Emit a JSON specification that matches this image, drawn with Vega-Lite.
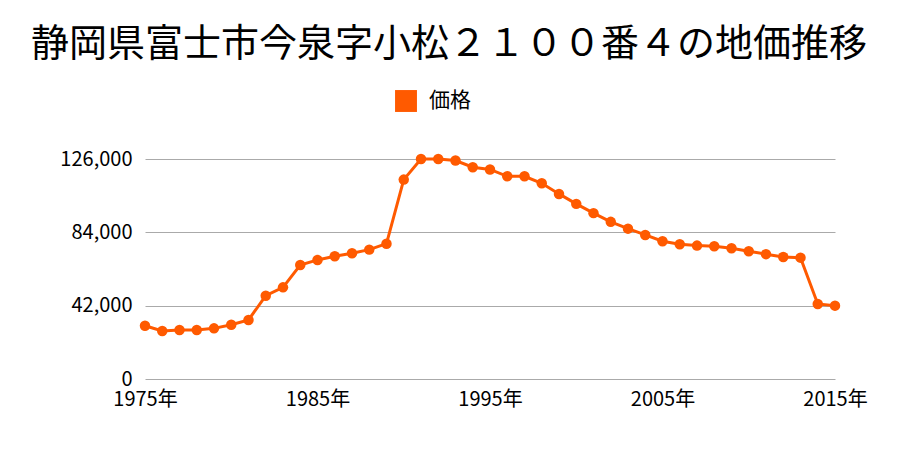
{
  "$schema": "https://vega.github.io/schema/vega-lite/v6.json",
  "autosize": {"type": "none"},
  "width": 690,
  "height": 220,
  "padding": {"left": 145, "top": 159, "right": 65, "bottom": 71},
  "background": "white",
  "config": {
    "font": "Noto Sans CJK JP",
    "view": {"stroke": null}
  },
  "title": {
    "text": "静岡県富士市今泉字小松２１００番４の地価推移",
    "fontSize": 38,
    "fontWeight": "normal",
    "color": "#000000",
    "anchor": "middle",
    "dx": -41,
    "offset": 26
  },
  "data": {
    "values": [
      {"year": 1975, "value": 30500},
      {"year": 1976, "value": 27500},
      {"year": 1977, "value": 28100},
      {"year": 1978, "value": 28100},
      {"year": 1979, "value": 29000},
      {"year": 1980, "value": 31100},
      {"year": 1981, "value": 33800},
      {"year": 1982, "value": 47700},
      {"year": 1983, "value": 52500},
      {"year": 1984, "value": 65300},
      {"year": 1985, "value": 68200},
      {"year": 1986, "value": 70300},
      {"year": 1987, "value": 72000},
      {"year": 1988, "value": 74100},
      {"year": 1989, "value": 77500},
      {"year": 1990, "value": 114200},
      {"year": 1991, "value": 126000},
      {"year": 1992, "value": 126000},
      {"year": 1993, "value": 125100},
      {"year": 1994, "value": 121300},
      {"year": 1995, "value": 120000},
      {"year": 1996, "value": 116100},
      {"year": 1997, "value": 116100},
      {"year": 1998, "value": 112100},
      {"year": 1999, "value": 106000},
      {"year": 2000, "value": 100300},
      {"year": 2001, "value": 95000},
      {"year": 2002, "value": 90000},
      {"year": 2003, "value": 86100},
      {"year": 2004, "value": 82500},
      {"year": 2005, "value": 78900},
      {"year": 2006, "value": 77200},
      {"year": 2007, "value": 76400},
      {"year": 2008, "value": 76000},
      {"year": 2009, "value": 74900},
      {"year": 2010, "value": 73200},
      {"year": 2011, "value": 71500},
      {"year": 2012, "value": 69900},
      {"year": 2013, "value": 69500},
      {"year": 2014, "value": 43000},
      {"year": 2015, "value": 42000}
    ]
  },
  "encoding": {
    "x": {
      "field": "year",
      "type": "quantitative",
      "scale": {"domain": [1975, 2015], "nice": false, "zero": false},
      "axis": {
        "title": null,
        "values": [1975, 1985, 1995, 2005, 2015],
        "labelExpr": "datum.value + '年'",
        "grid": false,
        "domain": false,
        "ticks": false,
        "labelFontSize": 20,
        "labelColor": "#000000",
        "labelPadding": 10,
        "labelFlush": false
      }
    },
    "y": {
      "field": "value",
      "type": "quantitative",
      "scale": {"domain": [0, 126000], "nice": false},
      "axis": {
        "title": null,
        "values": [0, 42000, 84000, 126000],
        "format": ",d",
        "grid": true,
        "gridColor": "#aaaaaa",
        "gridWidth": 1,
        "domain": false,
        "ticks": false,
        "labelFontSize": 20,
        "labelColor": "#000000",
        "labelPadding": 13
      }
    },
    "color": {
      "datum": "価格",
      "type": "nominal",
      "scale": {"range": ["#ff5a00"]},
      "legend": {
        "title": null,
        "orient": "none",
        "legendX": 250,
        "legendY": -69,
        "symbolType": "square",
        "symbolSize": 480,
        "symbolStrokeWidth": 0,
        "symbolOpacity": 1,
        "labelFontSize": 21,
        "labelColor": "#000000",
        "labelOffset": 12
      }
    }
  },
  "layer": [
    {"mark": {"type": "line", "strokeWidth": 3, "clip": false}},
    {"mark": {"type": "point", "filled": true, "size": 110, "opacity": 1, "clip": false}}
  ]
}
